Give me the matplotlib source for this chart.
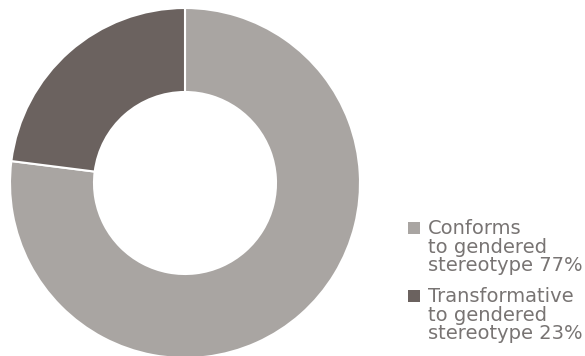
import matplotlib
matplotlib.use("Agg")
import matplotlib.pyplot as plt
from matplotlib.patches import Rectangle

labels = ["Conforms\nto gendered\nstereotype 77%", "Transformative\nto gendered\nstereotype 23%"]
values = [77, 23]
colors = ["#a9a5a2", "#6b625f"]

fig = plt.figure(figsize=(5.85, 3.56), dpi=100)
ax = fig.add_axes([10 / 585, -2 / 356, 350 / 585, 350 / 356])
wedges, _ = ax.pie(values, colors=colors, startangle=90, counterclock=False,
                   radius=1, wedgeprops=dict(width=0.48, edgecolor="white", linewidth=1.5))
ax.set_xlim(-1, 1)
ax.set_ylim(-1, 1)
ax.set_aspect("equal")

# legend drawn by hand so the swatch sits on the first line
W, H = 585, 356
for i, (lab, col) in enumerate(zip(labels, colors)):
    top = 219 + i * 68
    fig.patches.append(Rectangle((408 / W, 1 - (top + 15) / H), 12 / W, 12 / H,
                                 transform=fig.transFigure, facecolor=col, edgecolor="none"))
    fig.text(428 / W, 1 - top / H, lab, ha="left", va="top", fontsize=14,
             family="DejaVu Sans", color="#787473", linespacing=0.98)

fig.savefig("out.png", dpi=100)
